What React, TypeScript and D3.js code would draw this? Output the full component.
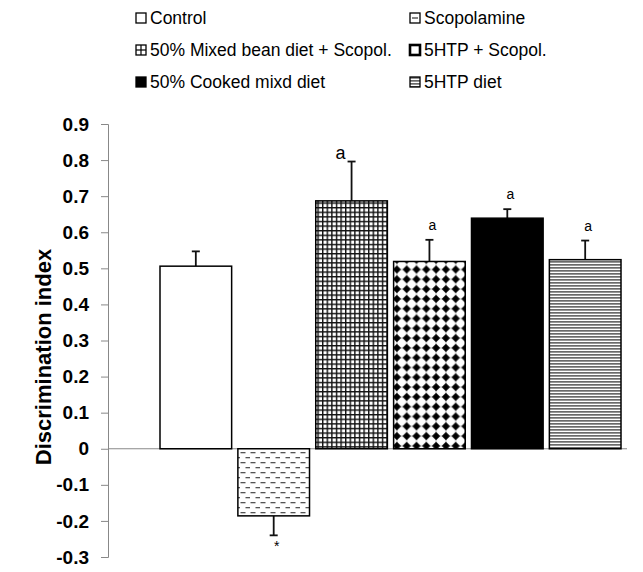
import * as d3 from "d3";
import { useEffect, useRef } from "react";

const GROUPS = [
  "Control",
  "Scopolamine",
  "50% Mixed bean diet + Scopol.",
  "5HTP + Scopol.",
  "50% Cooked mixd diet",
  "5HTP diet",
];
const MEANS  = [0.506, -0.186, 0.687, 0.519, 0.639, 0.524];
const ERRORS = [0.041, 0.054, 0.109, 0.06, 0.025, 0.053];
const MARKS  = ["", "*", "a", "a", "a", "a"];
const FILLS  = ["#ffffff", "url(#p-dash)", "url(#p-grid)", "url(#p-dot)", "#000000", "url(#p-stripe)"];
const Y_TICKS = [-0.3, -0.2, -0.1, 0, 0.1, 0.2, 0.3, 0.4, 0.5, 0.6, 0.7, 0.8, 0.9];

const W = 643;
const H = 572;
const FONT = "Arial, 'Liberation Sans', sans-serif";

export default function App() {
  const svgRef = useRef<SVGSVGElement>(null);

  useEffect(() => {
    const svg = d3.select(svgRef.current);
    svg.selectAll("*").remove();

    const axisX = 108;
    const x = d3.scaleBand<string>().domain(GROUPS).range([160, 621]).paddingInner(0.08).paddingOuter(0);
    const y = d3.scaleLinear().domain([-0.3, 0.9]).range([557, 124]);

    // ── patterns ──
    const defs = svg.append("defs");
    const dash = defs.append("pattern").attr("id", "p-dash")
      .attr("patternUnits", "userSpaceOnUse").attr("width", 10).attr("height", 10);
    dash.append("rect").attr("width", 10).attr("height", 10).attr("fill", "#fff");
    dash.append("rect").attr("x", 0.5).attr("y", 2).attr("width", 5).attr("height", 1.3).attr("fill", "#555");
    dash.append("rect").attr("x", 5.5).attr("y", 7).attr("width", 5).attr("height", 1.3).attr("fill", "#555");

    const grid = defs.append("pattern").attr("id", "p-grid")
      .attr("patternUnits", "userSpaceOnUse").attr("width", 4.6).attr("height", 4.6);
    grid.append("rect").attr("width", 4.6).attr("height", 4.6).attr("fill", "#fff");
    grid.append("rect").attr("width", 1.4).attr("height", 4.6).attr("fill", "#111");
    grid.append("rect").attr("width", 4.6).attr("height", 1.4).attr("fill", "#111");

    const dot = defs.append("pattern").attr("id", "p-dot")
      .attr("patternUnits", "userSpaceOnUse").attr("width", 9.8).attr("height", 9.8);
    dot.append("rect").attr("width", 9.8).attr("height", 9.8).attr("fill", "#fff");
    dot.append("rect").attr("x", 0).attr("y", 4.4).attr("width", 9.8).attr("height", 1).attr("fill", "#aaa");
    dot.append("rect").attr("x", 4.4).attr("y", 0).attr("width", 1).attr("height", 9.8).attr("fill", "#aaa");
    dot.append("path")
      .attr("d", "M4.9,1.7 L8.1,4.9 L4.9,8.1 L1.7,4.9 Z")
      .attr("fill", "#000").attr("stroke", "#000").attr("stroke-width", 1.3).attr("stroke-linejoin", "round");

    const stripe = defs.append("pattern").attr("id", "p-stripe")
      .attr("patternUnits", "userSpaceOnUse").attr("width", 4).attr("height", 3);
    stripe.append("rect").attr("width", 4).attr("height", 3).attr("fill", "#fff");
    stripe.append("rect").attr("width", 4).attr("height", 1.7).attr("fill", "#6a6a6a");

    // ── y axis ──
    const yAxis = svg.append("g").attr("transform", `translate(${axisX},0)`)
      .call(d3.axisLeft(y).tickValues(Y_TICKS).tickSize(7).tickPadding(12)
        .tickFormat((d) => (+d === 0 ? "0" : (+d).toFixed(1))));
    yAxis.select(".domain").attr("stroke", "#888").attr("stroke-width", 1);
    yAxis.selectAll(".tick line").attr("stroke", "#888");
    yAxis.selectAll(".tick text")
      .attr("fill", "#000")
      .style("font-family", FONT)
      .style("font-size", "19px")
      .style("font-weight", "bold");

    // zero line
    svg.append("line")
      .attr("x1", axisX).attr("x2", 627)
      .attr("y1", y(0)).attr("y2", y(0))
      .attr("stroke", "#888").attr("stroke-width", 1);

    // ── error bars ──
    const eb = svg.append("g");
    GROUPS.forEach((g, i) => {
      const cx = (x(g) as number) + x.bandwidth() / 2;
      const end = MEANS[i] >= 0 ? MEANS[i] + ERRORS[i] : MEANS[i] - ERRORS[i];
      eb.append("line").attr("x1", cx).attr("x2", cx)
        .attr("y1", y(MEANS[i])).attr("y2", y(end))
        .attr("stroke", "#111").attr("stroke-width", 1.8);
      eb.append("line").attr("x1", cx - 4).attr("x2", cx + 4)
        .attr("y1", y(end)).attr("y2", y(end))
        .attr("stroke", "#111").attr("stroke-width", 1.8);
    });

    // ── bars ──
    svg.append("g").selectAll("rect")
      .data(GROUPS)
      .enter()
      .append("rect")
      .attr("x", (d) => x(d) as number)
      .attr("width", x.bandwidth())
      .attr("y", (d, i) => y(Math.max(0, MEANS[i])))
      .attr("height", (d, i) => Math.abs(y(MEANS[i]) - y(0)))
      .attr("fill", (d, i) => FILLS[i])
      .attr("stroke", "#000")
      .attr("stroke-width", 1.5);

    // ── significance marks ──
    GROUPS.forEach((g, i) => {
      if (!MARKS[i]) return;
      const cx = (x(g) as number) + x.bandwidth() / 2;
      const pos = MEANS[i] >= 0;
      const end = pos ? MEANS[i] + ERRORS[i] : MEANS[i] - ERRORS[i];
      const big = i === 2;
      svg.append("text")
        .attr("x", cx + (big ? -11 : 3))
        .attr("y", pos ? y(end) - (big ? 3 : 10) : y(end) + 16)
        .attr("text-anchor", "middle")
        .style("font-family", FONT)
        .style("font-size", big ? "18px" : "14px")
        .attr("fill", "#000")
        .text(MARKS[i]);
    });

    // ── legend ──
    const legend = svg.append("g");
    GROUPS.forEach((g, i) => {
      const col = i % 2;
      const row = Math.floor(i / 2);
      const lx = col === 0 ? 136 : 410;
      const ly = 18 + row * 32;
      const s = 10;
      const sw = legend.append("g").attr("transform", `translate(${lx},${ly - s / 2})`);
      sw.append("rect")
        .attr("width", s).attr("height", s)
        .attr("fill", i === 4 ? "#000" : i === 5 ? "url(#p-stripe)" : "#fff")
        .attr("stroke", "#000").attr("stroke-width", i === 3 ? 2.6 : 1.3);
      if (i === 1) {
        sw.append("line").attr("x1", 2).attr("x2", s - 2).attr("y1", s / 2).attr("y2", s / 2)
          .attr("stroke", "#333").attr("stroke-width", 1.2);
      }
      if (i === 2) {
        sw.append("line").attr("x1", 0).attr("x2", s).attr("y1", s / 2).attr("y2", s / 2)
          .attr("stroke", "#000").attr("stroke-width", 1.2);
        sw.append("line").attr("x1", s / 2).attr("x2", s / 2).attr("y1", 0).attr("y2", s)
          .attr("stroke", "#000").attr("stroke-width", 1.2);
      }
      legend.append("text")
        .attr("x", lx + s + 4).attr("y", ly + 6)
        .style("font-family", FONT)
        .style("font-size", "17.5px")
        .attr("fill", "#000")
        .text(g);
    });

    // ── y title ──
    svg.append("text")
      .attr("transform", `translate(51,${357}) rotate(-90)`)
      .attr("text-anchor", "middle")
      .style("font-family", FONT)
      .style("font-size", "22px")
      .style("font-weight", "bold")
      .attr("fill", "#000")
      .text("Discrimination index");
  }, []);

  return (
    <svg
      ref={svgRef}
      width={W}
      height={H}
      style={{ position: "absolute", left: 0, top: 0, background: "#fff" }}
    ></svg>
  );
}
